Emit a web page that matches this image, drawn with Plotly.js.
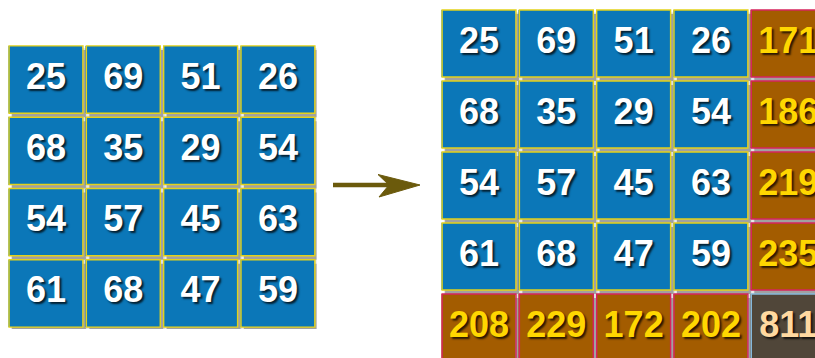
<!DOCTYPE html>
<html>
<head>
<meta charset="utf-8">
<script src="https://cdn.plot.ly/plotly-3.0.1.min.js"></script>
<style>html,body{margin:0;padding:0;background:#fff;}#chart{width:815px;height:358px;}</style>
</head>
<body>
<div id="chart"></div>
<script>
// ---- data ----
const inputGrid = [
  [25, 69, 51, 26],
  [68, 35, 29, 54],
  [54, 57, 45, 63],
  [61, 68, 47, 59]
];
const rowTotals = [171, 186, 219, 235];
const colTotals = [208, 229, 172, 202];
const grandTotal = 811;

// ---- styles ----
const BLUE = '#0b77b8', BROWN = '#a35c00', DARK = '#504639';
const BORDER = ['#e3d21a', '#d6245e', '#86b8da'];
const FILL = [BLUE, BROWN, DARK];
const TEXTC = ['#ffffff', '#ffd700', '#ffd9a0'];
const SHADOW = '2px 2px 2px rgba(0,0,0,0.75)';
const W = 815, H = 358;

// build right-hand table from the arrays
const outGrid = inputGrid.map((r, i) => r.concat([rowTotals[i]]));
outGrid.push(colTotals.concat([grandTotal]));
const leftKind = inputGrid.map(r => r.map(() => 0));
const rightKind = outGrid.map((r, i) => r.map((v, j) =>
  (i < inputGrid.length && j < inputGrid[0].length) ? 0 :
  (i === inputGrid.length && j === inputGrid[0].length) ? 2 : 1));

const cs = [[0, BLUE], [0.5, BROWN], [1, DARK]];
const traces = [];
const shapes = [];

function addGrid(grid, kind, xa, ya, pxX, pxY) {
  traces.push({
    type: 'heatmap', z: kind, xaxis: xa, yaxis: ya,
    colorscale: cs, zmin: 0, zmax: 2, showscale: false,
    xgap: 3, ygap: 4, hoverinfo: 'skip'
  });
  const xs = [], ys = [], tx = [], tc = [];
  const hw = 0.478, hh = 0.472;
  const dx = 3 / pxX, dy = 4 / pxY;
  grid.forEach((row, i) => row.forEach((v, j) => {
    xs.push(j); ys.push(i); tx.push(String(v)); tc.push(TEXTC[kind[i][j]]);
    const xr = xa, yr = ya;
    shapes.push({type: 'rect', xref: xr, yref: yr, layer: 'below',
      x0: j - hw + dx * 0.6, x1: j + hw + dx * 1.6, y0: i - hh + dy * 0.6, y1: i + hh + dy * 1.6,
      fillcolor: 'rgba(0,0,0,0.12)', line: {width: 0}});
    shapes.push({type: 'rect', xref: xr, yref: yr, layer: 'below',
      x0: j - hw + dx, x1: j + hw + dx, y0: i - hh + dy, y1: i + hh + dy,
      fillcolor: 'rgba(0,0,0,0.28)', line: {width: 0}});
    shapes.push({type: 'rect', xref: xr, yref: yr, layer: 'above',
      x0: j - hw, x1: j + hw, y0: i - hh, y1: i + hh,
      fillcolor: 'rgba(0,0,0,0)', line: {color: BORDER[kind[i][j]], width: 1.4}});
  }));
  traces.push({
    type: 'scatter', mode: 'text', x: xs, y: ys, text: tx,
    xaxis: xa, yaxis: ya, hoverinfo: 'skip', textposition: 'middle center',
    textfont: {family: 'Liberation Sans, Arial, sans-serif', size: 36, weight: 700,
      color: tc, shadow: SHADOW}
  });
}

// pixel pitch of one cell
const pitchX = 77.3, pitchYL = 71.3, pitchYR = 71.0;
addGrid(inputGrid, leftKind, 'x', 'y', pitchX, pitchYL);
addGrid(outGrid, rightKind, 'x2', 'y2', pitchX, pitchYR);

// arrow (decoration, page pixels -> paper)
const px = x => x / W, py = y => (H - y) / H;
const arrowC = '#6b5a0c';
shapes.push({type: 'line', xref: 'paper', yref: 'paper',
  x0: px(333), x1: px(395), y0: py(185), y1: py(185), line: {color: arrowC, width: 4.5}});
shapes.push({type: 'path', xref: 'paper', yref: 'paper',
  path: `M ${px(420)} ${py(185)} L ${px(378)} ${py(174.5)} L ${px(389)} ${py(185)} L ${px(379)} ${py(197)} Z`,
  fillcolor: arrowC, line: {color: arrowC, width: 1}});

const ax = {visible: false, showgrid: false, zeroline: false, fixedrange: true};
const layout = {
  width: W, height: H, margin: {l: 0, r: 0, t: 0, b: 0, pad: 0},
  paper_bgcolor: '#ffffff', plot_bgcolor: 'rgba(0,0,0,0)', showlegend: false,
  xaxis: Object.assign({}, ax, {domain: [7.35 / W, 316.6 / W], range: [-0.5, 3.5], anchor: 'y'}),
  yaxis: Object.assign({}, ax, {domain: [(H - 329.1) / H, (H - 43.9) / H], range: [3.5, -0.5], anchor: 'x'}),
  xaxis2: Object.assign({}, ax, {domain: [440.4 / W, 1], range: [-0.5, -0.5 + (W - 440.4) / pitchX], anchor: 'y2'}),
  yaxis2: Object.assign({}, ax, {domain: [0, (H - 8) / H], range: [-0.5 + (H - 8) / pitchYR, -0.5], anchor: 'x2'}),
  shapes: shapes
};
Plotly.newPlot('chart', traces, layout, {staticPlot: true, displayModeBar: false});
</script>
</body>
</html>
